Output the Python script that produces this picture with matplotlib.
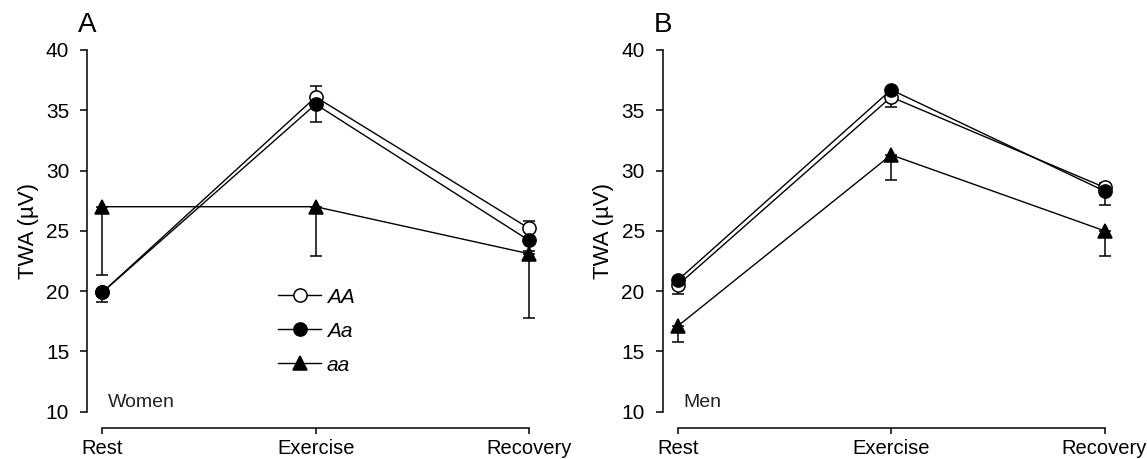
import matplotlib
matplotlib.use('Agg')
import matplotlib.pyplot as plt
import numpy as np

plt.rcParams['font.family'] = ['Liberation Sans', 'DejaVu Sans']

phases = ['Rest', 'Exercise', 'Recovery']
genotypes = ['AA', 'Aa', 'aa']

# Women (panel A): means, lower and upper error
women_AA = [19.9, 36.1, 25.2]
women_Aa = [19.9, 35.5, 24.2]
women_aa = [27.0, 27.0, 23.1]
women_AA_lo = [0.0, 0.0, 0.0]
women_AA_hi = [0.0, 0.9, 0.65]
women_Aa_lo = [0.8, 1.5, 0.9]
women_Aa_hi = [0.0, 0.0, 0.0]
women_aa_lo = [5.65, 4.1, 5.35]
women_aa_hi = [0.0, 0.0, 0.0]

# Men (panel B)
men_AA = [20.5, 36.1, 28.6]
men_Aa = [20.9, 36.7, 28.3]
men_aa = [17.1, 31.3, 25.0]
men_AA_lo = [0.7, 0.8, 0.0]
men_AA_hi = [0.0, 0.0, 0.4]
men_Aa_lo = [0.0, 0.0, 1.15]
men_Aa_hi = [0.0, 0.0, 0.0]
men_aa_lo = [1.35, 2.1, 2.05]
men_aa_hi = [0.0, 0.0, 0.0]

styles = {'AA': dict(marker='o', mfc='white', mec='black'),
          'Aa': dict(marker='o', mfc='black', mec='black'),
          'aa': dict(marker='^', mfc='black', mec='black')}


def draw_panel(ax, series, letter, group):
    x = np.arange(len(phases))
    handles = []
    for name, (vals, lo, hi) in zip(genotypes, series):
        vals, lo, hi = np.array(vals), np.array(lo), np.array(hi)
        m = (lo > 0) | (hi > 0)
        ax.errorbar(x[m], vals[m], yerr=[lo[m], hi[m]], fmt='none', ecolor='black',
                    elinewidth=1.1, capsize=4, capthick=1.1, zorder=2)
        h, = ax.plot(x, vals, color='black', lw=1.0, ms=9.5, mew=1.1,
                     label=name, zorder=3, **styles[name])
        handles.append(h)

    ax.set_ylim(10, 40)
    ax.set_xlim(-0.0705, 2.07)
    ax.set_yticks([10, 15, 20, 25, 30, 35, 40])
    ax.set_xticks(x)
    ax.set_xticklabels(phases)
    ax.spines['top'].set_visible(False)
    ax.spines['right'].set_visible(False)
    ax.spines['left'].set_bounds(10, 40)
    ax.spines['bottom'].set_bounds(0, 2)
    ax.spines['bottom'].set_position(('outward', 11.5))
    for s in ['left', 'bottom']:
        ax.spines[s].set_linewidth(1.1)
    ax.tick_params(axis='y', length=5, width=1.1, pad=8, labelsize=15)
    ax.tick_params(axis='x', length=4, width=1.1, pad=4, labelsize=14.5)
    ax.set_ylabel('TWA (µV)', fontsize=16, labelpad=5)
    ax.text(0.045, 0.012, group, transform=ax.transAxes, fontsize=14,
            color='#222222', ha='left', va='baseline')
    ax.text(-0.02, 1.05, letter, transform=ax.transAxes, fontsize=20,
            ha='left', va='baseline')
    return handles


fig = plt.figure(figsize=(11.47, 4.59), dpi=100)
axA = fig.add_axes([0.0761, 0.1031, 0.3982, 0.788])
axB = fig.add_axes([0.5778, 0.1031, 0.3982, 0.788])

hA = draw_panel(axA, [(women_AA, women_AA_lo, women_AA_hi),
                      (women_Aa, women_Aa_lo, women_Aa_hi),
                      (women_aa, women_aa_lo, women_aa_hi)], 'A', 'Women')
draw_panel(axB, [(men_AA, men_AA_lo, men_AA_hi),
                 (men_Aa, men_Aa_lo, men_Aa_hi),
                 (men_aa, men_aa_lo, men_aa_hi)], 'B', 'Men')

leg = axA.legend(handles=hA, loc='upper left', bbox_to_anchor=(0.417, 0.343),
                 frameon=False, borderpad=0, borderaxespad=0, handlelength=2.1,
                 handletextpad=0.26, labelspacing=0.72,
                 prop={'style': 'italic', 'size': 15})

fig.savefig('out.png', dpi=100)
